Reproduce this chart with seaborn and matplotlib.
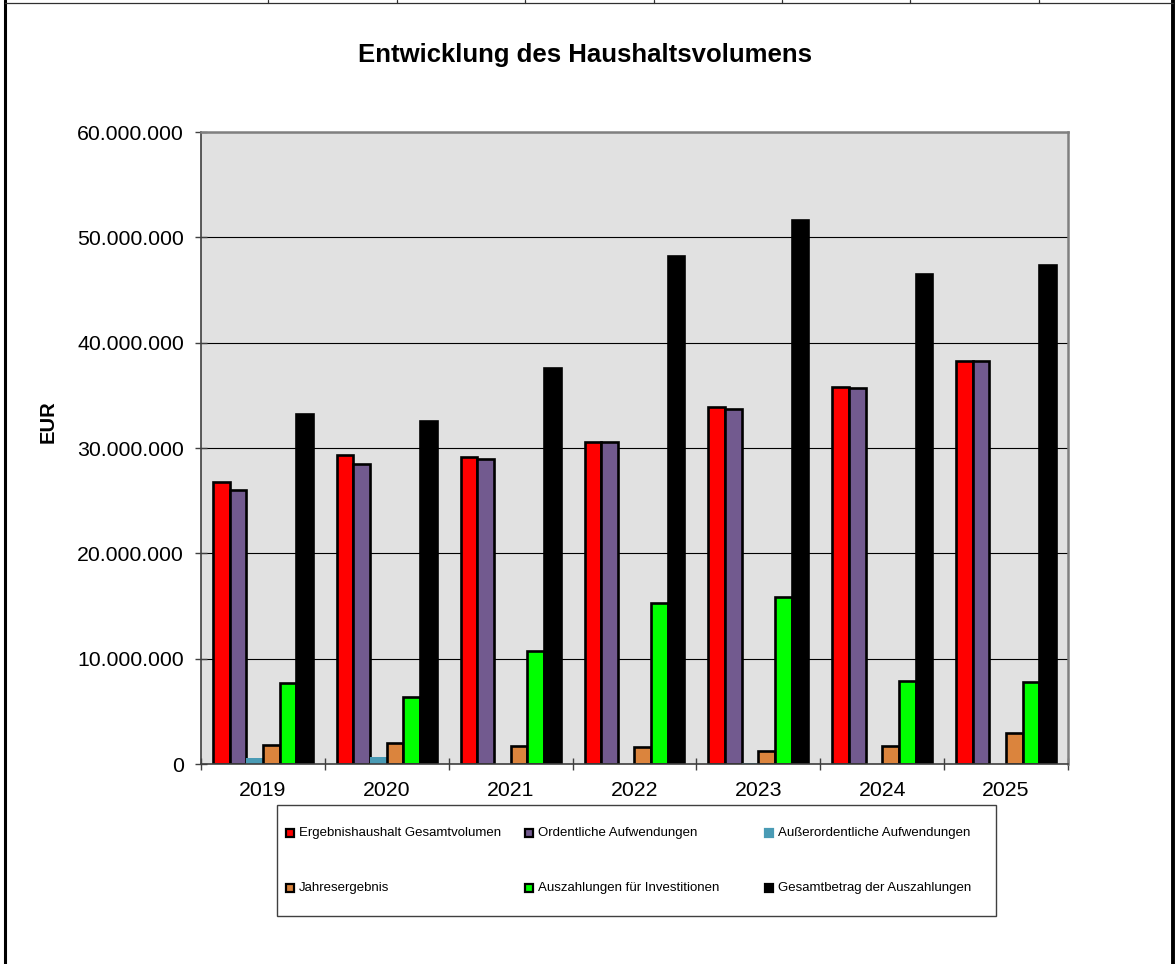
import matplotlib
matplotlib.use("Agg")
import matplotlib.pyplot as plt
import numpy as np
import pandas as pd
import seaborn as sns
from matplotlib.lines import Line2D
from matplotlib.patches import Rectangle
from matplotlib.ticker import FuncFormatter

# Data (EUR)
years = ["2019", "2020", "2021", "2022", "2023", "2024", "2025"]

series_names = [
    "Ergebnishaushalt Gesamtvolumen",
    "Ordentliche Aufwendungen",
    "Außerordentliche Aufwendungen",
    "Jahresergebnis",
    "Auszahlungen für Investitionen",
    "Gesamtbetrag der Auszahlungen",
]

ergebnishaushalt = [26.8e6, 29.3e6, 29.1e6, 30.6e6, 33.9e6, 35.8e6, 38.3e6]
ordentliche = [26.0e6, 28.5e6, 29.0e6, 30.6e6, 33.7e6, 35.7e6, 38.3e6]
ausserordentliche = [0.6e6, 0.7e6, 0.03e6, 0.0, 0.1e6, 0.0, 0.0]
jahresergebnis = [1.8e6, 2.0e6, 1.7e6, 1.6e6, 1.25e6, 1.7e6, 2.95e6]
investitionen = [7.65e6, 6.4e6, 10.7e6, 15.3e6, 15.85e6, 7.85e6, 7.8e6]
gesamtbetrag = [33.2e6, 32.6e6, 37.6e6, 48.2e6, 51.6e6, 46.5e6, 47.4e6]

colors = ["#ff0000", "#725a8f", "#4a9bb5", "#db843d", "#00ff00", "#000000"]

series_values = [
    ergebnishaushalt,
    ordentliche,
    ausserordentliche,
    jahresergebnis,
    investitionen,
    gesamtbetrag,
]

rows = []
for name, vals in zip(series_names, series_values):
    for year, v in zip(years, vals):
        rows.append((year, name, v))
df = pd.DataFrame(rows, columns=["Jahr", "Reihe", "EUR"])

W, H = 1175, 964


def fx(px):
    return px / W


def fy(py):
    return 1 - py / H


sns.set_style("white")
plt.rcParams["font.family"] = ["Liberation Sans", "DejaVu Sans"]
plt.rcParams["text.color"] = "black"
plt.rcParams["xtick.labelcolor"] = "black"
plt.rcParams["ytick.labelcolor"] = "black"

fig = plt.figure(figsize=(W / 100, H / 100), dpi=100)
ax = fig.add_axes([fx(201), fy(764), fx(1068) - fx(201), fy(132) - fy(764)])

sns.barplot(
    data=df,
    x="Jahr",
    y="EUR",
    hue="Reihe",
    hue_order=series_names,
    order=years,
    palette=colors,
    saturation=1,
    width=0.807,
    edgecolor="black",
    linewidth=1.9,
    errorbar=None,
    legend=False,
    ax=ax,
)

# no outline on the small cyan bars
for p in ax.containers[2]:
    p.set_linewidth(0)

ax.set_xlim(-0.5, 6.5)
ax.set_ylim(0, 60e6)
ax.set_facecolor("#e1e1e1")
ax.set_yticks(np.arange(0, 60e6 + 1, 10e6))
ax.yaxis.set_major_formatter(
    FuncFormatter(lambda v, _: f"{v:,.0f}".replace(",", "."))
)
ax.grid(axis="y", color="black", linewidth=0.8)
ax.grid(axis="x", visible=False)
ax.set_axisbelow(True)

ax.tick_params(axis="y", left=True, direction="inout", length=9, width=1,
               color="#404040", labelcolor="black", labelsize=15.3, pad=7.7)
ax.tick_params(axis="x", which="major", bottom=True, length=0,
               labelcolor="black", labelsize=15.3, pad=12.5)
ax.set_xticks(np.arange(-0.5, 7, 1), minor=True)
ax.tick_params(axis="x", which="minor", bottom=True, direction="inout",
               length=9, width=1, color="#404040")
ax.set_xlabel("")
ax.set_ylabel("")

for side in ["left", "bottom"]:
    ax.spines[side].set_color("#404040")
    ax.spines[side].set_linewidth(1.2)
for side in ["top", "right"]:
    ax.spines[side].set_color("#808080")
    ax.spines[side].set_linewidth(1.8)

fig.text(fx(585), fy(62), "Entwicklung des Haushaltsvolumens",
         ha="center", va="baseline", fontsize=18.5, fontweight="bold",
         color="black")
fig.text(fx(48), fy(422), "EUR", rotation=90, ha="center", va="center",
         fontsize=14.5, fontweight="bold", color="black")

# Legend box
fig.add_artist(Rectangle((fx(277), fy(916)), fx(996) - fx(277),
                         fy(805) - fy(916), transform=fig.transFigure,
                         facecolor="white", edgecolor="#404040", linewidth=1))
col_x = [286, 525, 765]
row_y = [833, 888]
for i, (name, c) in enumerate(zip(series_names, colors)):
    x0 = col_x[i % 3]
    y0 = row_y[i // 3]
    ec = c if i == 2 else "black"
    fig.add_artist(Rectangle((fx(x0), fy(y0 + 4)), fx(8), 8 / H,
                             transform=fig.transFigure, facecolor=c,
                             edgecolor=ec, linewidth=1.6))
    fig.text(fx(x0 + 13), fy(y0), name, ha="left", va="center",
             fontsize=9.5, color="black")

# sheet borders
fig.add_artist(Line2D([fx(5), fx(5)], [0, 1], transform=fig.transFigure,
                      color="black", linewidth=2.2))
fig.add_artist(Line2D([fx(1173), fx(1173)], [0, 1], transform=fig.transFigure,
                      color="black", linewidth=2.8))
fig.add_artist(Line2D([fx(5), fx(1173)], [fy(3), fy(3)],
                      transform=fig.transFigure, color="#303030",
                      linewidth=0.9))
for xc in [268, 397, 525, 654, 782, 910, 1039]:
    fig.add_artist(Line2D([fx(xc), fx(xc)], [fy(3), 1],
                          transform=fig.transFigure, color="#303030",
                          linewidth=0.9))

fig.savefig("out.png", dpi=100)
